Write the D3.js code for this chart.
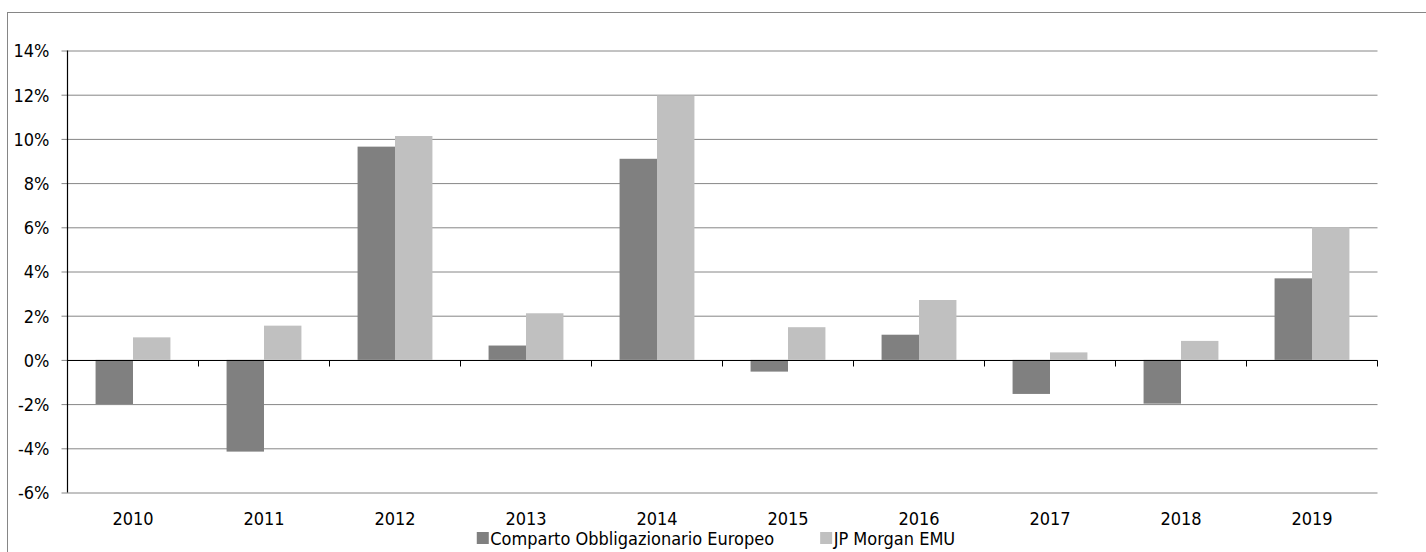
<!DOCTYPE html>
<html>
<head>
<meta charset="utf-8">
<script src="https://cdn.jsdelivr.net/npm/d3@7"></script>
<style>
  html, body { margin: 0; padding: 0; background: #fff; }
  svg { display: block; }
  text { font-family: "DejaVu Sans Condensed", "DejaVu Sans", sans-serif; font-stretch: condensed; font-size: 18px; fill: #000; }
</style>
</head>
<body>
<svg id="chart" width="1426" height="552"></svg>
<script>
const years = ["2010","2011","2012","2013","2014","2015","2016","2017","2018","2019"];
const seriesNames = ["Comparto Obbligazionario Europeo", "JP Morgan EMU"];
const comparto = [-2.0, -4.15, 9.65, 0.65, 9.1, -0.53, 1.14, -1.54, -1.98, 3.69];
const jpMorgan = [1.02, 1.55, 10.13, 2.11, 11.96, 1.48, 2.71, 0.34, 0.86, 6.0];
const yTicks = [-6, -4, -2, 0, 2, 4, 6, 8, 10, 12, 14];
const colors = ["#808080", "#c0c0c0"];

const svg = d3.select("#chart");
const pLeft = 67.5, pRight = 1377.5, pTop = 50.5, pBottom = 492.5;

// outer frame
svg.append("rect").attr("x", 7.5).attr("y", 12.5).attr("width", 1500).attr("height", 600)
  .attr("fill", "none").attr("stroke", "#868686").attr("stroke-width", 1);

const x0 = d3.scaleBand().domain(years).range([pLeft, pRight]).padding(0);
const x1 = d3.scaleBand().domain(seriesNames).range([0, x0.bandwidth()]).paddingInner(0).paddingOuter(0.75);
const y = d3.scaleLinear().domain([-6, 14]).range([pBottom, pTop]);

// gridlines + y axis
const yAxis = d3.axisLeft(y).tickValues(yTicks).tickFormat(d => d + "%").tickSize(-(pRight - pLeft)).tickSizeOuter(0).tickPadding(18);
const gy = svg.append("g").attr("transform", `translate(${pLeft},0)`).call(yAxis);
gy.select(".domain").remove();
gy.selectAll(".tick line").attr("stroke", "#868686").attr("x1", -6).attr("x2", pRight - pLeft);
gy.selectAll(".tick text").style("font-size", "18px").attr("dy", "0.35em").attr("fill", "#000");

// bars
const data = years.map((yr, i) => ({ year: yr, vals: [comparto[i], jpMorgan[i]] }));
const groups = svg.append("g").selectAll("g").data(data).join("g")
  .attr("transform", d => `translate(${x0(d.year)},0)`);
groups.selectAll("rect").data(d => d.vals.map((v, j) => ({ v, name: seriesNames[j], j })))
  .join("rect")
  .attr("x", d => x1(d.name))
  .attr("width", x1.bandwidth())
  .attr("y", d => y(Math.max(0, d.v)))
  .attr("height", d => Math.abs(y(d.v) - y(0)))
  .attr("fill", d => colors[d.j]);

// y axis line
svg.append("line").attr("x1", pLeft).attr("x2", pLeft).attr("y1", pTop).attr("y2", pBottom)
  .attr("stroke", "#000").attr("stroke-width", 1.2);

// zero line with category ticks
const zeroY = Math.round(y(0)) + 0.5;
svg.append("line").attr("x1", pLeft).attr("x2", pRight).attr("y1", zeroY).attr("y2", zeroY)
  .attr("stroke", "#000").attr("stroke-width", 1.2);
const boundaries = years.slice(1).map(yr => x0(yr)).concat([pRight]);
svg.append("g").selectAll("line").data(boundaries).join("line")
  .attr("x1", d => d).attr("x2", d => d).attr("y1", zeroY).attr("y2", zeroY + 6)
  .attr("stroke", "#000").attr("stroke-width", 1);

// category labels
svg.append("g").selectAll("text").data(years).join("text")
  .attr("x", d => x0(d) + x0.bandwidth() / 2)
  .attr("y", 525)
  .attr("text-anchor", "middle")
  .text(d => d);

// legend
const legend = svg.append("g");
const items = legend.selectAll("g").data(seriesNames).join("g");
items.append("rect").attr("width", 12).attr("height", 12).attr("y", 532).attr("fill", (d, i) => colors[i]);
items.append("text").attr("y", 545).text(d => d);
let widths = [];
items.each(function() { widths.push(d3.select(this).select("text").node().getComputedTextLength()); });
const gap = 46, mk = 13.5;
const total = mk + widths[0] + gap + mk + widths[1];
let startX = 716 - total / 2;
items.each(function(d, i) {
  const g = d3.select(this);
  const xs = i === 0 ? startX : startX + mk + widths[0] + gap;
  g.select("rect").attr("x", xs);
  g.select("text").attr("x", xs + mk);
});
</script>
</body>
</html>
